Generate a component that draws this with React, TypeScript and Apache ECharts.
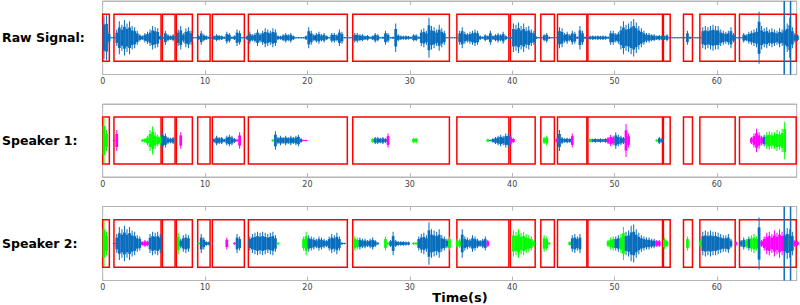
import React, { useEffect, useRef } from "react";
import * as echarts from "echarts";

// ---------- data ----------
const BIN = 0.25; // seconds per envelope bin
const X_MAX = 67.8;
const Y_MAX = 1.56;

// Raw signal envelope amplitude, one value per 0.25 s bin from t = 0
const rawAmp: number[] = [
  0.9, 0.95, 0.25, 0.02, 0.02, 0.35, 0.7, 0.55, 0.75, 0.6, 0.7, 0.5, 0.45, 0.3, 0.15, 0.1, 0.2, 0.25, 0.35, 0.5,
  0.45, 0.4, 0.1, 0.05, 0.3, 0.15, 0.1, 0.15, 0.02, 0.35, 0.5, 0.2, 0.4, 0.45, 0.3, 0.02, 0.02, 0.1, 0.3, 0.15,
  0.1, 0.05, 0.02, 0.1, 0.15, 0.12, 0.1, 0.05, 0.25, 0.2, 0.05, 0.1, 0.35, 0.3, 0.03, 0.03, 0.1, 0.25, 0.15, 0.2,
  0.35, 0.2, 0.3, 0.4, 0.35, 0.3, 0.4, 0.35, 0.1, 0.08, 0.15, 0.2, 0.15, 0.2, 0.1, 0.03, 0.03, 0.03, 0.03, 0.1,
  0.45, 0.3, 0.15, 0.2, 0.25, 0.15, 0.2, 0.1, 0.03, 0.2, 0.2, 0.15, 0.35, 0.25, 0.02, 0.02, 0.02, 0.02, 0.2, 0.2,
  0.15, 0.15, 0.1, 0.12, 0.05, 0.1, 0.2, 0.15, 0.03, 0.05, 0.3, 0.2, 0.03, 0.05, 0.6, 0.15, 0.1, 0.08, 0.1, 0.08,
  0.05, 0.15, 0.15, 0.05, 0.35, 0.4, 0.3, 0.85, 0.5, 0.45, 0.35, 0.55, 0.4, 0.3, 0.02, 0.02, 0.02, 0.02, 0.02, 0.3,
  0.45, 0.25, 0.2, 0.25, 0.3, 0.35, 0.3, 0.1, 0.05, 0.15, 0.1, 0.3, 0.1, 0.15, 0.2, 0.15, 0.25, 0.1, 0.03, 0.05,
  0.6, 0.55, 0.65, 0.5, 0.6, 0.45, 0.5, 0.35, 0.3, 0.05, 0.02, 0.02, 0.15, 0.2, 0.05, 0.02, 0.02, 0.02, 0.45, 0.4,
  0.2, 0.25, 0.15, 0.3, 0.25, 0.05, 0.5, 0.3, 0.05, 0.05, 0.08, 0.1, 0.08, 0.1, 0.08, 0.1, 0.08, 0.05, 0.3, 0.3,
  0.2, 0.25, 0.5, 0.7, 0.55, 0.6, 0.7, 0.8, 0.65, 0.5, 0.4, 0.3, 0.2, 0.2, 0.15, 0.15, 0.1, 0.12, 0.1, 0.1,
  0.15, 0.02, 0.02, 0.02, 0.02, 0.02, 0.02, 0.02, 0.3, 0.05, 0.02, 0.02, 0.02, 0.02, 0.45, 0.5, 0.45, 0.5, 0.55, 0.5,
  0.5, 0.35, 0.3, 0.25, 0.3, 0.45, 0.2, 0.02, 0.02, 0.02, 0.2, 0.15, 0.25, 0.3, 0.35, 0.4, 1.1, 0.5, 0.4, 0.45,
  0.35, 0.4, 0.35, 0.3, 0.4, 0.35, 0.5, 0.6, 0.85, 0.45, 0.2, 0.15,
];

// Speaker bursts: [colour key, start time (s), amplitudes per 0.25 s bin]
type Burst = [string, number, number[]];
const speaker1: Burst[] = [
  ["g", 0, [1.0, 0.45]],
  ["m", 1.0, [0.02, 0.45]],
  ["g", 3.75, [0.05, 0.1, 0.2, 0.45, 0.6, 0.35, 0.25, 0.2]],
  ["b", 5.75, [0.35, 0.3, 0.15, 0.12, 0.15]],
  ["m", 7.5, [0.35]],
  ["b", 10.75, [0.1, 0.2, 0.15, 0.15, 0.08, 0.2, 0.25, 0.2, 0.1]],
  ["m", 13.0, [0.05, 0.35]],
  ["g", 16.5, [0.05]],
  ["b", 16.75, [0.4, 0.15, 0.2, 0.15, 0.2, 0.15, 0.2, 0.15, 0.2, 0.25, 0.1]],
  ["m", 19.5, [0.03, 0.03]],
  ["g", 26.25, [0.1]],
  ["b", 26.5, [0.15, 0.15, 0.12, 0.15, 0.1]],
  ["m", 27.75, [0.3]],
  ["g", 30.25, [0.12, 0.12]],
  ["g", 37.5, [0.08]],
  ["b", 37.75, [0.03, 0.1, 0.15, 0.2, 0.25, 0.2, 0.3, 0.3]],
  ["m", 39.75, [0.2, 0.1]],
  ["g", 43.0, [0.15, 0.2]],
  ["m", 44.25, [0.1]],
  ["b", 44.5, [0.45, 0.15, 0.1, 0.12, 0.1]],
  ["m", 45.75, [0.3]],
  ["g", 47.5, [0.1]],
  ["b", 47.75, [0.08, 0.1, 0.08, 0.1, 0.08, 0.1]],
  ["m", 49.25, [0.15, 0.25, 0.2]],
  ["b", 50.0, [0.35, 0.25, 0.2, 0.15]],
  ["m", 51.0, [0.7, 0.3]],
  ["g", 54.0, [0.05]],
  ["b", 54.25, [0.15, 0.1]],
  ["m", 63.25, [0.15, 0.3, 0.5, 0.35, 0.2]],
  ["b", 64.5, [0.25]],
  ["g", 64.75, [0.35, 0.4, 0.35, 0.35, 0.45, 0.4, 0.5, 0.8]],
];

const speaker2: Burst[] = [
  ["g", 0, [0.95, 0.5]],
  ["b", 1.0, [0.02, 0.4, 0.7, 0.6, 0.75, 0.6, 0.7, 0.55, 0.5, 0.35, 0.3]],
  ["m", 3.75, [0.1, 0.15, 0.12]],
  ["b", 4.5, [0.4, 0.5, 0.45, 0.5, 0.4]],
  ["g", 7.25, [0.45]],
  ["b", 7.5, [0.2, 0.35, 0.4, 0.35]],
  ["g", 9.25, [0.05]],
  ["b", 9.5, [0.4, 0.25, 0.1, 0.08]],
  ["m", 12.0, [0.25]],
  ["m", 12.75, [0.05]],
  ["b", 13.0, [0.4, 0.3]],
  ["b", 14.25, [0.3, 0.4, 0.45, 0.5, 0.45, 0.5, 0.45, 0.4, 0.45, 0.5, 0.35]],
  ["g", 17.0, [0.05]],
  ["g", 19.5, [0.3, 0.5]],
  ["b", 20.0, [0.35, 0.3, 0.25, 0.2, 0.3, 0.25, 0.2, 0.15, 0.3, 0.4, 0.35, 0.45, 0.3, 0.05, 0.03]],
  ["g", 24.5, [0.3, 0.25]],
  ["b", 25.0, [0.25, 0.2, 0.2, 0.15, 0.2, 0.25, 0.15, 0.05]],
  ["g", 27.5, [0.3, 0.05]],
  ["b", 28.0, [0.15, 0.5, 0.15, 0.1, 0.1, 0.1, 0.08, 0.08]],
  ["g", 30.25, [0.05, 0.05]],
  ["b", 30.75, [0.3, 0.4, 0.45, 0.35, 0.9, 0.6, 0.55, 0.5, 0.6, 0.35, 0.3, 0.2]],
  ["g", 33.75, [0.3]],
  ["g", 34.5, [0.2, 0.2]],
  ["b", 35.0, [0.6, 0.3, 0.25, 0.2, 0.35, 0.3, 0.2, 0.15, 0.2, 0.3]],
  ["m", 37.5, [0.15]],
  ["g", 40.0, [0.55, 0.5, 0.6, 0.45, 0.5, 0.4, 0.35, 0.3, 0.15]],
  ["g", 43.0, [0.35, 0.3, 0.05]],
  ["g", 45.5, [0.1]],
  ["b", 45.75, [0.35, 0.4, 0.3, 0.4]],
  ["g", 49.25, [0.15, 0.25, 0.3]],
  ["b", 50.0, [0.3, 0.35]],
  ["g", 50.5, [0.4, 0.7]],
  ["b", 51.0, [0.5, 0.55, 0.75, 0.8, 0.6, 0.45, 0.35, 0.3, 0.25, 0.25, 0.2, 0.2]],
  ["m", 54.0, [0.15, 0.15]],
  ["g", 54.75, [0.25, 0.15]],
  ["g", 57.0, [0.3]],
  ["g", 58.25, [0.15]],
  ["b", 58.5, [0.5, 0.55, 0.5, 0.55, 0.5, 0.5, 0.45, 0.4, 0.35, 0.35, 0.4, 0.2]],
  ["m", 61.75, [0.08]],
  ["b", 62.25, [0.15, 0.25]],
  ["g", 62.75, [0.2]],
  ["b", 63.0, [0.3]],
  ["g", 63.25, [0.35, 0.4, 0.3]],
  ["b", 64.0, [1.1]],
  ["m", 64.25, [0.15, 0.3, 0.45, 0.5, 0.4, 0.55, 0.45, 0.6, 0.5]],
  ["b", 66.5, [0.55, 0.65, 0.6, 0.5]],
  ["m", 67.5, [0.15, 0.1]],
];

// Detected speech segments (red boxes), [start, end] in seconds
const segments: [number, number][] = [
  [0.0, 0.65], [1.1, 5.7], [5.83, 7.07], [7.2, 8.76], [9.28, 10.49], [10.71, 13.84],
  [14.23, 23.9], [24.43, 33.87], [34.6, 39.68], [39.83, 42.25], [42.8, 44.13], [44.43, 47.3],
  [47.4, 54.69], [54.78, 55.44], [56.74, 57.62], [58.34, 61.79], [62.21, 67.75],
];

// Vertical cursor lines (s), shown on raw signal and speaker 2
const cursorTimes: number[] = [66.58, 67.2];

const panelLabels = ["Raw Signal:", "Speaker 1:", "Speaker 2:"];
const xAxisTitle = "Time(s)";

// ---------- styling ----------
const BLUE = "#0a6ebd";
const PALETTE = [BLUE, "#00ff00", "#ff00ff"];
const KEY: Record<string, number> = { b: 0, g: 1, m: 2 };
const FRAME = "#b5b5b5";
const BODY = 0.62; // dense body of the waveform relative to its peak

const PANELS = [
  { top: 1, height: 73.5 },
  { top: 104, height: 73 },
  { top: 206.5, height: 74 },
];
const GRID_LEFT = 102.7;
const GRID_RIGHT = 3.3;

function toBins(bursts: Burst[]) {
  const out: number[][] = [];
  bursts.forEach(([c, t0, amps]) => {
    amps.forEach((a, i) => out.push([t0 + i * BIN, a, KEY[c]]));
  });
  return out;
}

function bar(api: any, t0: number, t1: number, a: number, fill: string) {
  const p0 = api.coord([t0, a]);
  const p1 = api.coord([t1, -a]);
  let y0 = p0[1];
  let h = p1[1] - p0[1];
  if (h < 1) {
    y0 = (p0[1] + p1[1]) / 2 - 0.5;
    h = 1;
  }
  return {
    type: "rect",
    shape: { x: p0[0], y: y0, width: p1[0] - p0[0], height: h },
    style: { fill },
  };
}

const waveItem = (_p: any, api: any) => {
  const t = api.value(0);
  const a = api.value(1);
  const fill = PALETTE[api.value(2)];
  return {
    type: "group",
    children: [
      bar(api, t - 0.01, t + BIN + 0.01, a * BODY, fill),
      bar(api, t + BIN * 0.3, t + BIN * 0.7, a, fill),
    ],
  };
};

const boxItem = (_p: any, api: any) => {
  const p0 = api.coord([api.value(0), 1]);
  const p1 = api.coord([api.value(1), -1]);
  return {
    type: "rect",
    shape: { x: p0[0], y: p0[1], width: p1[0] - p0[0], height: p1[1] - p0[1] },
    style: { fill: "none", stroke: "#ff0000", lineWidth: 1.5 },
  };
};

const cursorItem = (_p: any, api: any) => {
  const p0 = api.coord([api.value(0), Y_MAX]);
  const p1 = api.coord([api.value(0), -Y_MAX]);
  return {
    type: "line",
    shape: { x1: p0[0], y1: p0[1], x2: p1[0], y2: p1[1] },
    style: { stroke: BLUE, lineWidth: 1.5 },
  };
};

function buildOption() {
  const waves = [toBins([["b", 0, rawAmp]]), toBins(speaker1), toBins(speaker2)];
  const grid: any[] = [];
  const xAxis: any[] = [];
  const yAxis: any[] = [];
  const series: any[] = [];
  const graphic: any[] = [];

  PANELS.forEach((p, i) => {
    grid.push({
      left: GRID_LEFT,
      right: GRID_RIGHT,
      top: p.top,
      height: p.height,
      show: true,
      borderColor: FRAME,
      borderWidth: 1,
      backgroundColor: "transparent",
    });
    const base = {
      type: "value",
      gridIndex: i,
      min: 0,
      max: X_MAX,
      interval: 10,
      splitLine: { show: false },
      axisLine: { show: true, onZero: false, lineStyle: { color: FRAME, width: 1 } },
      axisTick: { show: true, inside: true, length: 4, lineStyle: { color: FRAME } },
    };
    xAxis.push({
      ...base,
      position: "bottom",
      axisLabel: {
        show: true,
        fontSize: 8,
        color: "#444",
        margin: 3,
        fontFamily: "DejaVu Sans",
        formatter: (v: number) => (Math.abs(v % 10) < 1e-9 ? String(v) : ""),
      },
    });
    xAxis.push({ ...base, position: "top", axisLabel: { show: false } });
    yAxis.push({ type: "value", gridIndex: i, min: -Y_MAX, max: Y_MAX, show: false });

    series.push({
      type: "custom",
      xAxisIndex: i * 2,
      yAxisIndex: i,
      renderItem: boxItem,
      data: segments.map((s) => [s[0], s[1]]),
      encode: { x: [0, 1] },
      silent: true,
      z: 2,
    });
    series.push({
      type: "custom",
      xAxisIndex: i * 2,
      yAxisIndex: i,
      renderItem: waveItem,
      data: waves[i],
      encode: { x: 0, y: 1 },
      silent: true,
      z: 3,
    });
    if (i !== 1) {
      series.push({
        type: "custom",
        xAxisIndex: i * 2,
        yAxisIndex: i,
        renderItem: cursorItem,
        data: cursorTimes.map((t) => [t]),
        encode: { x: 0 },
        silent: true,
        z: 4,
      });
    }

    graphic.push({
      type: "text",
      x: 2,
      y: p.top + p.height / 2,
      style: {
        text: panelLabels[i],
        fill: "#000",
        fontSize: 12.5,
        fontWeight: "bold",
        fontFamily: "DejaVu Sans",
        verticalAlign: "middle",
        align: "left",
      },
    });
  });

  graphic.push({
    type: "text",
    x: 460,
    y: 297,
    style: {
      text: xAxisTitle,
      fill: "#000",
      fontSize: 13,
      fontWeight: "bold",
      fontFamily: "DejaVu Sans",
      verticalAlign: "middle",
      align: "center",
    },
  });

  return {
    animation: false,
    backgroundColor: "#ffffff",
    grid,
    xAxis,
    yAxis,
    series,
    graphic,
  };
}

export default function App() {
  const ref = useRef<HTMLDivElement>(null);
  useEffect(() => {
    if (!ref.current) return;
    const chart = echarts.init(ref.current, null, { renderer: "svg" });
    chart.setOption(buildOption() as any);
    return () => chart.dispose();
  }, []);
  return (
    <div
      ref={ref}
      style={{ position: "fixed", left: 0, top: 0, width: 800, height: 305 }}
    />
  );
}
